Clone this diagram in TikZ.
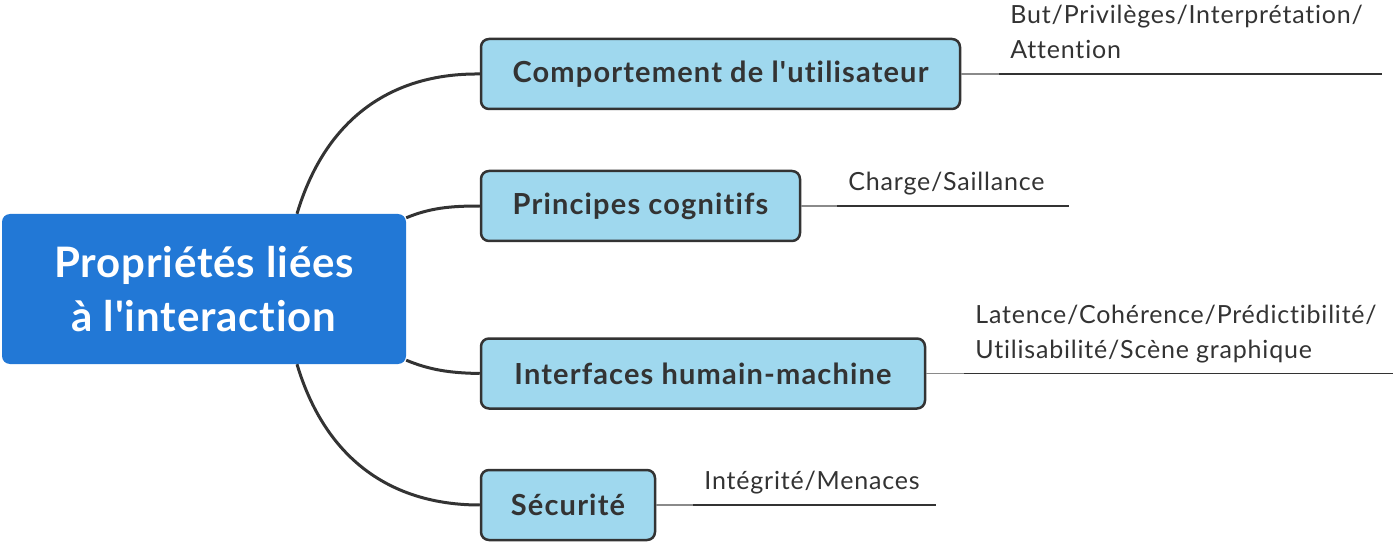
\documentclass[tikz,border=0pt]{standalone}
\usepackage{fontspec}
\newfontfamily\rootf{Lato}[Ligatures=NoCommon, LetterSpace=2]
\newfontfamily\childf{Lato}[Ligatures=NoCommon, LetterSpace=4]
\newfontfamily\leaff{Lato}[Ligatures=NoCommon, LetterSpace=3.2]
\definecolor{rootblue}{HTML}{2278D6}
\definecolor{childfill}{HTML}{9FD8EE}
\definecolor{ink}{HTML}{333333}
\definecolor{stub}{HTML}{8A8A8A}
\tikzset{
  rootbox/.style={fill=rootblue, draw=none, rounded corners=8pt, minimum width=404pt, minimum height=150pt,
    align=center, text=white, font=\rootf\bfseries\fontsize{42}{54}\selectfont, inner sep=0pt},
  childbox/.style={fill=childfill, draw=ink, line width=2.5pt, rounded corners=8pt, minimum height=70pt,
    text=ink, font=\childf\bfseries\fontsize{29}{30}\selectfont, inner sep=0pt},
  leaf/.style={anchor=south west, align=left, text=ink, font=\leaff\fontsize{25}{35}\selectfont,
    inner xsep=11pt, inner ysep=15pt, text depth=0pt},
  branch/.style={draw=ink, line width=3pt},
  stubline/.style={draw=stub, line width=1.6pt},
  leafline/.style={draw=ink, line width=1.6pt},
}
\begin{document}
\begin{tikzpicture}[x=1pt,y=-1pt]
\useasboundingbox (0,0) rectangle (1393,548);
\node[rootbox] (root) at (204,289) {Propriétés liées\\à l'interaction};
\node[childbox, minimum width=479pt] (c1) at (720.5,74) {Comportement de l'utilisateur};
\node[childbox, minimum width=319pt] (c2) at (640.5,206) {Principes cognitifs};
\node[childbox, minimum width=444pt] (c3) at (703,373.5) {Interfaces humain-machine};
\node[childbox, minimum width=174pt] (c4) at (568,505) {Sécurité};

\draw[branch] ([xshift=93pt]root.north) .. controls (325,120) and (390,73) .. (c1.west);
\draw[branch] ([yshift=-4pt]root.north east) .. controls (430,208) and (450,206) .. (c2.west);
\draw[branch] ([yshift=4pt]root.south east) .. controls (430,370) and (450,373) .. (c3.west);
\draw[branch] ([xshift=93pt]root.south) .. controls (325,458) and (390,505) .. (c4.west);

\node[leaf] (l1) at ([xshift=38pt]c1.east) {But/Privilèges/Interprétation/\\Attention};
\node[leaf] (l2) at ([xshift=36pt]c2.east) {Charge/Saillance};
\node[leaf] (l3) at ([xshift=38pt]c3.east) {Latence/Cohérence/Prédictibilité/\\Utilisabilité/Scène graphique};
\node[leaf] (l4) at ([xshift=37pt]c4.east) {Intégrité/Menaces};
\coordinate (e1) at ([xshift=383pt]l1.south west);
\coordinate (e2) at ([xshift=232pt]l2.south west);
\coordinate (e3) at ([xshift=430pt]l3.south west);
\coordinate (e4) at ([xshift=243pt]l4.south west);
\draw[stubline] (c1.east) -- (l1.south west);
\draw[stubline] (c2.east) -- (l2.south west);
\draw[stubline] (c3.east) -- (l3.south west);
\draw[stubline] (c4.east) -- (l4.south west);
\draw[leafline] (l1.south west) -- (e1);
\draw[leafline] (l2.south west) -- (e2);
\draw[leafline] (l3.south west) -- (e3);
\draw[leafline] (l4.south west) -- (e4);
\end{tikzpicture}
\end{document}
